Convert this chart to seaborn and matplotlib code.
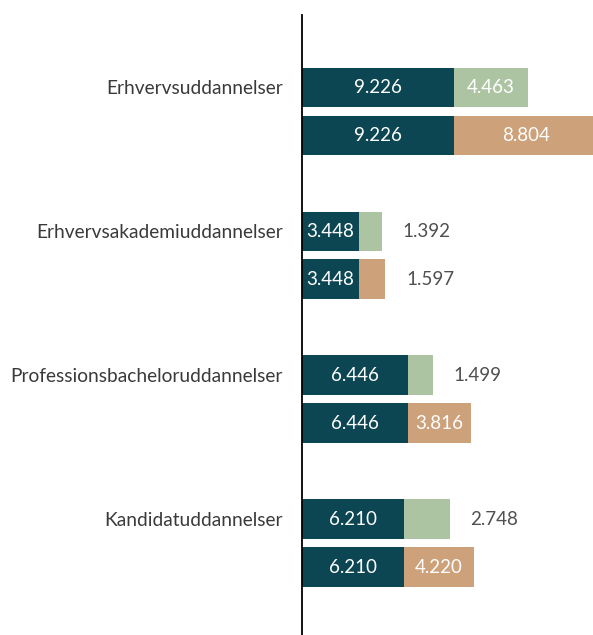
import matplotlib
matplotlib.use('Agg')
import matplotlib.pyplot as plt
import pandas as pd
import seaborn as sns

sns.set_style('white')
plt.rcParams['font.family'] = ['Lato', 'DejaVu Sans']

# data
categories = ['Erhvervsuddannelser', 'Erhvervsakademiuddannelser',
              'Professionsbacheloruddannelser', 'Kandidatuddannelser']
base_values = [9226, 3448, 6446, 6210]
green_values = [4463, 1392, 1499, 2748]
tan_values = [8804, 1597, 3816, 4220]

TEAL = '#0c4652'
GREEN = '#adc4a3'
TAN = '#cda17a'

rows = []
for i, cat in enumerate(categories):
    rows.append({'pos': 3 * i, 'base': base_values[i], 'seg': green_values[i], 'kind': 'green'})
    rows.append({'pos': 3 * i + 1, 'base': base_values[i], 'seg': tan_values[i], 'kind': 'tan'})
df = pd.DataFrame(rows)
df['total'] = df['base'] + df['seg']

fig = plt.figure(figsize=(5.93, 6.35), dpi=100)
ax = fig.add_axes([302 / 593, 0, 291 / 593, 620 / 635])

sns.barplot(data=df, x='total', y='pos', hue='kind', palette={'green': GREEN, 'tan': TAN},
            orient='h', native_scale=True, dodge=False, width=0.83, linewidth=0,
            saturation=1, legend=False, ax=ax)
sns.barplot(data=df, x='base', y='pos', color=TEAL, orient='h', native_scale=True,
            width=0.83, linewidth=0, saturation=1, ax=ax)

fmt = lambda v: f'{v:,}'.replace(',', '.')
for _, r in df.iterrows():
    ax.text(r['base'] / 2, r['pos'], fmt(r['base']), color='white', fontsize=13.5,
            ha='center', va='center')
    if r['seg'] > 3000:
        ax.text(r['base'] + r['seg'] / 2, r['pos'], fmt(r['seg']), color='white',
                fontsize=13.5, ha='center', va='center')
    else:
        ax.annotate(fmt(r['seg']), (r['total'], r['pos']), xytext=(15, 0),
                    textcoords='offset points', color='#505050', fontsize=13.5,
                    ha='left', va='center')

ax.set_xlim(0, 17660)
ax.set_ylim(11.41, -1.51)
ax.set_yticks([3 * i for i in range(len(categories))])
ax.set_yticklabels(categories, fontsize=13.8, color='#3a3a3a')
ax.set_xticks([])
ax.set_xlabel('')
ax.set_ylabel('')
ax.tick_params(axis='y', length=0, pad=14)
for side in ['top', 'right', 'bottom']:
    ax.spines[side].set_visible(False)
ax.spines['left'].set_color('black')
ax.spines['left'].set_linewidth(1.3)

fig.savefig('out.png', dpi=100)
